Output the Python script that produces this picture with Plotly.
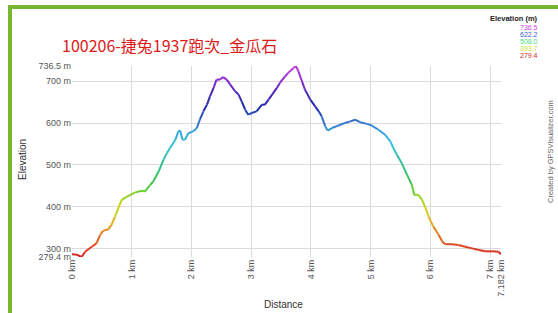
import plotly.graph_objects as go
from plotly.colors import sample_colorscale

# ---- data ----
distance_km = [0.00, 0.08, 0.16, 0.22, 0.33, 0.41, 0.47, 0.52, 0.61, 0.66, 0.72, 0.83, 0.92,
               1.06, 1.17, 1.22, 1.31, 1.36, 1.45, 1.53, 1.59, 1.64, 1.73, 1.78, 1.81, 1.85,
               1.89, 1.95, 2.03, 2.09, 2.14, 2.20, 2.26, 2.31, 2.37, 2.42, 2.48, 2.53, 2.59,
               2.65, 2.73, 2.79, 2.84, 2.90, 2.95, 3.01, 3.09, 3.18, 3.23, 3.29, 3.35, 3.43,
               3.48, 3.57, 3.62, 3.71, 3.75, 3.79, 3.85, 3.90, 3.99, 4.07, 4.13, 4.18, 4.24,
               4.28, 4.35, 4.46, 4.57, 4.66, 4.74, 4.82, 4.94, 5.02, 5.13, 5.24, 5.33, 5.38,
               5.44, 5.52, 5.61, 5.69, 5.73, 5.80, 5.86, 5.91, 5.97, 6.05, 6.14, 6.20, 6.25,
               6.36, 6.47, 6.58, 6.70, 6.81, 6.92, 7.03, 7.14, 7.182]
elevation_m = [286, 285, 279.4, 292, 304, 312, 332, 342, 346, 356, 376, 416, 424,
               434, 438, 436, 452, 460, 484, 512, 528, 540, 560, 580, 582, 560,
               560, 576, 580, 588, 608, 628, 644, 664, 684, 704, 704, 710, 704,
               692, 676, 668, 652, 632, 620, 624, 628, 644, 644, 656, 668, 684,
               696, 712, 720, 732, 736.5, 724, 700, 680, 656, 640, 628, 616, 592,
               582, 588, 594, 600, 604, 608, 602, 598, 594, 584, 572, 556, 540,
               524, 504, 476, 452, 428, 428, 416, 400, 376, 352, 332, 316, 310,
               310, 308, 304, 300, 296, 293, 293, 292, 286]

x_tick_vals = [0, 1, 2, 3, 4, 5, 6, 7, 7.182]
x_tick_text = ["0 km", "1 km", "2 km", "3 km", "4 km", "5 km", "6 km", "7 km", "7.182 km"]
y_tick_vals = [279.4, 300, 400, 500, 600, 700, 736.5]
y_tick_text = ["279.4 m", "300 m", "400 m", "500 m", "600 m", "700 m", "736.5 m"]

legend_values = ["736.5", "622.2", "508.0", "393.7", "279.4"]
legend_colors = ["#cc44dd", "#3a5fd0", "#44dd88", "#c8e030", "#dd2a2a"]

title_text = "100206-捷兔1937跑次_金瓜石"

# ---- styling ----
W, H = 558, 313
ML, MR, MT, MB = 72, 57, 66, 56
PW, PH = W - ML - MR, H - MT - MB

def px(x):
    return (x - ML) / PW

def py(y):
    return 1 - (y - MT) / PH

e_min, e_max = min(elevation_m), max(elevation_m)
cscale = [[0, '#d42020'], [0.07, '#e05020'], [0.15, '#e89020'], [0.22, '#e0d020'],
          [0.3, '#a8d820'], [0.38, '#40c840'], [0.48, '#30c090'], [0.6, '#38c0e0'],
          [0.66, '#30a0d8'], [0.7, '#3a78d0'], [0.78, '#2030a8'], [0.86, '#4a24b8'],
          [0.92, '#8a2ad0'], [1, '#c83ce0']]

fig = go.Figure()
for i in range(len(distance_km) - 1):
    mid = (elevation_m[i] + elevation_m[i + 1]) / 2
    t = (mid - e_min) / (e_max - e_min)
    col = sample_colorscale(cscale, [t])[0]
    fig.add_trace(go.Scatter(
        x=distance_km[i:i + 2], y=elevation_m[i:i + 2], mode="lines",
        line=dict(color=col, width=2), showlegend=False, hoverinfo="skip"))

tick_font = dict(family="Liberation Sans, Arial", size=9, color="#555555")
fig.update_xaxes(range=[0, 7.182], tickvals=x_tick_vals, ticktext=x_tick_text,
                 tickangle=-90, showgrid=True, gridcolor="#dcdcdc", gridwidth=1,
                 zeroline=False, showline=False, ticks="", tickfont=tick_font,
                 fixedrange=True, automargin=False)
fig.update_yaxes(range=[e_min, e_max], tickvals=y_tick_vals, ticktext=y_tick_text,
                 showgrid=True, gridcolor="#dcdcdc", gridwidth=1, zeroline=False,
                 showline=False, ticks="", tickfont=tick_font, fixedrange=True,
                 automargin=False)

ann = []
ann.append(dict(text=title_text, x=px(60), y=py(45), xref="paper", yref="paper",
                xanchor="left", yanchor="middle", showarrow=False,
                font=dict(family="Noto Sans CJK TC", size=16, color="#dd1a1a")))
ann.append(dict(text="<b>Elevation (m)</b>", x=px(540), y=py(19), xref="paper", yref="paper",
                xanchor="right", yanchor="middle", showarrow=False,
                font=dict(family="Liberation Sans, Arial", size=7.5, color="#222222")))
for k, (v, c) in enumerate(zip(legend_values, legend_colors)):
    ann.append(dict(text=v, x=px(540), y=py(27.5 + 7 * k), xref="paper", yref="paper",
                    xanchor="right", yanchor="middle", showarrow=False,
                    font=dict(family="Liberation Sans, Arial", size=7, color=c)))
ann.append(dict(text="Elevation", x=px(22), y=py(160), xref="paper", yref="paper",
                xanchor="center", yanchor="middle", showarrow=False, textangle=-90,
                font=dict(family="Liberation Sans, Arial", size=10, color="#333333")))
ann.append(dict(text="Distance", x=px(283), y=py(304), xref="paper", yref="paper",
                xanchor="center", yanchor="middle", showarrow=False,
                font=dict(family="Liberation Sans, Arial", size=10, color="#333333")))
ann.append(dict(text="Created by GPSVisualizer.com", x=px(550), y=py(152), xref="paper",
                yref="paper", xanchor="center", yanchor="middle", showarrow=False,
                textangle=-90,
                font=dict(family="Liberation Sans, Arial", size=7.5, color="#666666")))

green = "#78b62e"
shapes = [
    dict(type="rect", xref="paper", yref="paper", x0=px(8), x1=px(12), y0=py(5), y1=py(H + 5),
         fillcolor=green, line=dict(width=0), layer="above"),
    dict(type="rect", xref="paper", yref="paper", x0=px(8), x1=px(W + 5), y0=py(5), y1=py(9),
         fillcolor=green, line=dict(width=0), layer="above"),
]

fig.update_layout(width=W, height=H, margin=dict(l=ML, r=MR, t=MT, b=MB, autoexpand=False),
                  paper_bgcolor="white", plot_bgcolor="white",
                  annotations=ann, shapes=shapes, showlegend=False)

fig.write_html("out.html", config={"displayModeBar": False},
               post_script="document.body.style.margin='0px';document.body.style.padding='0px';")
